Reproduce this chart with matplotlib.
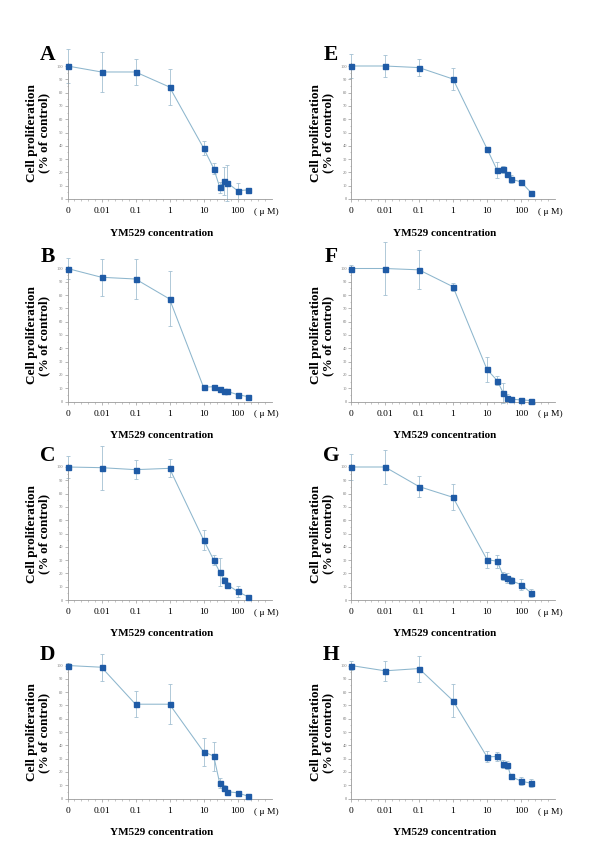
import numpy as np
import matplotlib
matplotlib.use("Agg")
import matplotlib.pyplot as plt

plt.rcParams['font.family'] = ['Liberation Serif', 'DejaVu Serif']

# concentrations in uM (0 = control, drawn at the 0.001 slot of the log axis)
conc = [0, 0.01, 0.1, 1, 10, 20, 30, 40, 50, 100, 200]

# mean proliferation (% of control) and error, per panel
mean_a = [100, 95.5, 95.5, 84.2, 38.4, 22.9, 8.8, 13.3, 12.1, 6.3, 6.8]
err_a = [13, 15, 10, 13.5, 5, 4.3, 4, 10.5, 13.5, 6, 1.5]
mean_b = [100, 93.4, 92.1, 77.1, 10.8, 11.1, 9.3, 7.6, 7.6, 5.2, 3.7]
err_b = [7.6, 14, 14.8, 20.7, 1, 1, 1, 1, 0.5, 1.5, 0.5]
mean_c = [100, 99.5, 98, 99, 45.3, 30, 21, 15, 11.5, 6.5, 2.5]
err_c = [8, 16.5, 7, 6.8, 7.4, 4, 10.3, 2, 2, 4, 0.5]
mean_d = [100, 98.7, 70.9, 70.9, 35.2, 31.9, 11.4, 7.8, 5.1, 4.3, 1.8]
err_d = [2, 10, 9.6, 15.2, 10.6, 10.9, 3.8, 2, 1.5, 1, 1.5]
mean_e = [100, 100, 98.8, 90.2, 37.8, 21.5, 22.4, 19, 14.9, 12.9, 4.6]
err_e = [9, 8, 6.6, 8.5, 1, 6, 2.5, 1.5, 3, 1.5, 1]
mean_f = [100, 100, 99, 86.3, 24.1, 15.7, 6.5, 2.5, 1.7, 1.2, 0.7]
err_f = [3, 19.6, 14.7, 3, 9.6, 3.6, 7.4, 3, 1.5, 1, 0.5]
mean_g = [100, 100, 85.3, 77.2, 30.4, 29.1, 18.2, 16.5, 14.7, 11.6, 5.3]
err_g = [10, 12.5, 8.2, 9.9, 6, 5, 3, 4, 2.5, 4, 3]
mean_h = [100, 96, 97.7, 73.5, 31.3, 31.6, 26, 25.3, 16.7, 13.1, 11.4]
err_h = [3.5, 7.3, 9.8, 12.4, 4.2, 3.6, 3, 3, 2, 3, 3]

panels = [
    ('A', mean_a, err_a, 0, 0), ('B', mean_b, err_b, 1, 0),
    ('C', mean_c, err_c, 2, 0), ('D', mean_d, err_d, 3, 0),
    ('E', mean_e, err_e, 0, 1), ('F', mean_f, err_f, 1, 1),
    ('G', mean_g, err_g, 2, 1), ('H', mean_h, err_h, 3, 1),
]

tick_pos = [0.001, 0.01, 0.1, 1, 10, 100]
tick_lab = ['0', '0.01', '0.1', '1', '10', '100']

W, H = 600, 867
fig = plt.figure(figsize=(6, 8.67), dpi=100)

col_left = [67.5, 351]           # px, left edge of each column
row_bottom = [199, 401.5, 600, 798.5]   # px from top, y = 0 line
ax_w = 204
ax_h = 133 * 1.02

axis_grey = '#9a9a9a'
marker_blue = '#1f5ba6'
line_blue = '#8db6cd'
err_blue = '#a3c0d2'

for letter, mean, err, row, col in panels:
    x0 = col_left[col]
    y0 = row_bottom[row]
    ax = fig.add_axes([x0 / W, 1 - y0 / H, ax_w / W, ax_h / H])

    xs = np.array([c if c > 0 else 0.001 for c in conc])
    ax.errorbar(xs, mean, yerr=err, fmt='none', ecolor=err_blue,
                elinewidth=0.6, capsize=1.6, capthick=0.6, clip_on=False)
    ax.plot(xs, mean, color=line_blue, lw=0.75, clip_on=False)
    ax.plot(xs, mean, 's', color=marker_blue, ms=3.6, mec=marker_blue,
            clip_on=False, zorder=5)

    ax.set_xscale('log')
    ax.set_xlim(0.001, 1000)
    ax.set_ylim(0, 102)
    ax.set_xticks(tick_pos)
    ax.set_xticklabels(tick_lab, fontsize=6.8)
    minors = [10 ** (k + i / 5) for k in range(-3, 3) for i in range(1, 5)]
    ax.set_xticks(minors, minor=True)
    ax.set_xticklabels([], minor=True)
    ax.set_yticks(range(0, 101, 10))
    ax.set_yticklabels([str(v) for v in range(0, 101, 10)], fontsize=3.2,
                       color='#777777')
    ax.set_yticks(range(5, 100, 10), minor=True)

    for s in ['top', 'right']:
        ax.spines[s].set_visible(False)
    for s in ['left', 'bottom']:
        ax.spines[s].set_color(axis_grey)
        ax.spines[s].set_linewidth(0.6)
    ax.tick_params(axis='x', which='major', length=2.5, width=0.5,
                   color=axis_grey, pad=3.5)
    ax.tick_params(axis='x', which='minor', length=1.5, width=0.4,
                   color=axis_grey)
    ax.tick_params(axis='y', which='major', length=2, width=0.5,
                   color=axis_grey, pad=1)
    ax.tick_params(axis='y', which='minor', length=1, width=0.4,
                   color=axis_grey)

    ax.annotate('( μ M)', xy=(10 ** 2.86, 0), xycoords=('data', 'axes fraction'),
                xytext=(0, -13 * 72 / 100), textcoords='offset points',
                ha='center', va='center', fontsize=6.8)

    # panel letter
    fig.text((x0 - 20) / W, 1 - (y0 - 144) / H, letter, fontsize=15.5,
             fontweight='bold', ha='center', va='center')
    # y label
    fig.text((x0 - 29) / W, 1 - (y0 - 66) / H,
             'Cell proliferation\n(% of control)', rotation=90, fontsize=9.5,
             fontweight='bold', ha='center', va='center', linespacing=1.0,
             multialignment='center')
    # x label
    fig.text((x0 + 94) / W, 1 - (y0 + 34) / H, 'YM529 concentration',
             fontsize=8, fontweight='bold', ha='center', va='center')

fig.savefig('out.png', dpi=100)
